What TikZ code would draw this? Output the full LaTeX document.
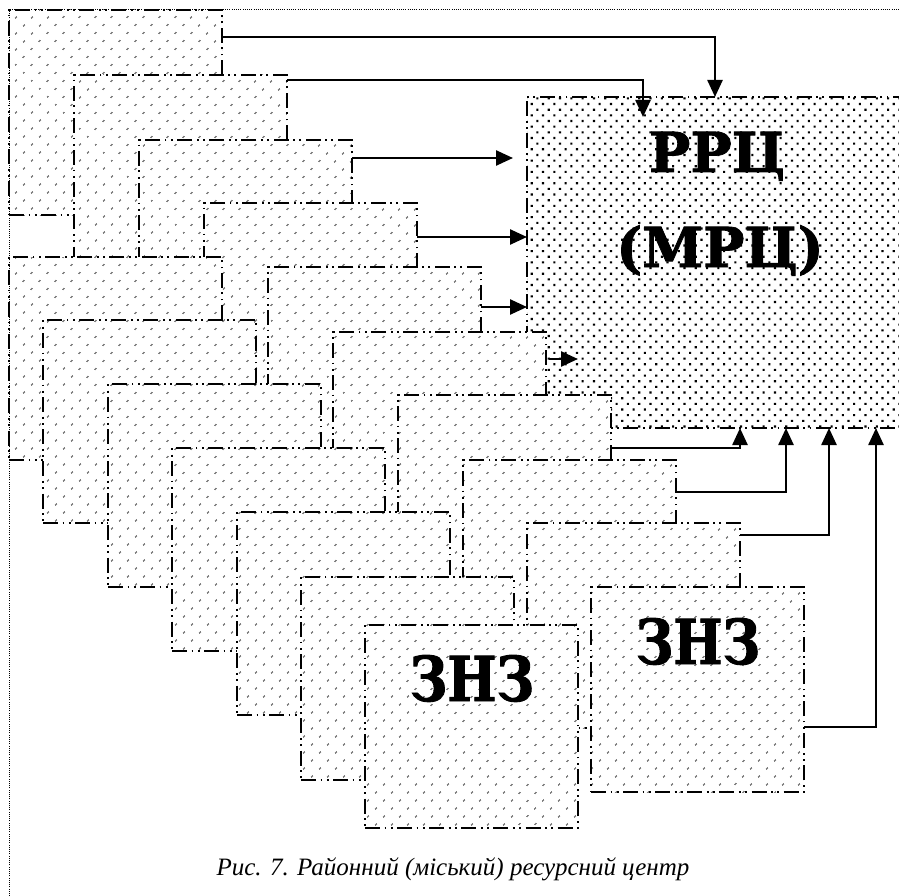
\documentclass[tikz,border=0pt]{standalone}
\usepackage{fontspec}
\setmainfont{Liberation Serif}
\newfontfamily\bigfont{DejaVu Serif}[FakeBold=1.5]
\newfontfamily\znzfont{DejaVu Serif}[FakeStretch=0.84,FakeBold=1.5]
\usetikzlibrary{patterns.meta,arrows.meta}
\begin{document}
\begin{tikzpicture}[x=1pt,y=-1pt,
  card/.style={draw, line width=1.8pt,
    dash pattern=on 15pt off 4.5pt on 1.8pt off 4.5pt on 1.8pt off 4.5pt,
    preaction={fill=white},
    pattern={Dots[distance=11.31pt, radius=1.05pt, angle=45]},
    rectangle, inner sep=0pt, outer sep=0pt, anchor=north west,
    minimum width=213pt},
  ucard/.style={card, minimum height=205pt},
  lcard/.style={card, minimum height=203pt},
  hub/.style={draw, line width=1.8pt,
    dash pattern=on 15pt off 4.5pt on 1.8pt off 4.5pt on 1.8pt off 4.5pt,
    preaction={fill=white},
    pattern={Dots[distance=8pt, radius=1.5pt, angle=45]},
    rectangle, inner sep=0pt, outer sep=0pt, anchor=north west,
    minimum width=378pt, minimum height=331pt},
  arr/.style={line width=2.5pt, -{Triangle[length=17pt, width=15pt]}},
  frame/.style={line width=1pt, dash pattern=on 1pt off 1.2pt},
  biglbl/.style={font=\bigfont\bfseries\fontsize{55}{60}\selectfont, anchor=base, inner sep=0pt},
  znzlbl/.style={font=\znzfont\bfseries\fontsize{62}{66}\selectfont, anchor=base, inner sep=0pt},
  caplbl/.style={font=\itshape\fontsize{25}{30}\selectfont, anchor=base, inner sep=0pt}
]
\useasboundingbox (0,0) rectangle (899,896);

% hub box
\node[hub] (mrc) at (527,97) {};

% upper cascade
\node[ucard] (u1) at (9,10) {};
\node[ucard] (u2) at (74,75) {};
\node[ucard] (u3) at (139,140) {};
\node[ucard] (u4) at (204,203) {};
\node[ucard] (u5) at (268,267) {};
\node[ucard] (u6) at (333,332) {};
\node[ucard] (u7) at (398,395) {};
\node[ucard] (u8) at (463,460) {};
\node[ucard] (u9) at (527,523) {};
\node[ucard] (u10) at (591,587) {};

% lower cascade
\node[lcard] (l1) at (9,257) {};
\node[lcard] (l2) at (43,320) {};
\node[lcard] (l3) at (108,384) {};
\node[lcard] (l4) at (172,448) {};
\node[lcard] (l5) at (237,512) {};
\node[lcard] (l6) at (301,577) {};
\node[lcard] (l7) at (365,625) {};

% frame
\draw[frame] (9,905) -- (9,10) -- (905,10);

% free ends
\coordinate (t2) at (643,117);
\coordinate (t3) at (513,158);
\coordinate (t6) at (578,359);

% arrows
\draw[arr] (u1.east |- 0,37) -| (mrc.north -| 715,0);
\draw[arr] (u2.east |- 0,80) -| (t2);
\draw[arr] (u3.east |- 0,158) -- (t3);
\draw[arr] (u4.east |- 0,237) -- (mrc.west |- 0,237);
\draw[arr] (u5.east |- 0,307) -- (mrc.west |- 0,307);
\draw[arr] ([xshift=3pt]u6.east |- 0,359) -- (t6);
\draw[arr] (u7.east |- 0,448) -| (mrc.south -| 740,0);
\draw[arr] (u8.east |- 0,492) -| (mrc.south -| 786,0);
\draw[arr] (u9.east |- 0,535) -| (mrc.south -| 829,0);
\draw[arr] (u10.east |- 0,727) -| (mrc.south -| 876,0);

% labels
\node[biglbl] (h1) at (717,172) {РРЦ};
\node[biglbl] (h2) at (720,267) {(МРЦ)};
\node[znzlbl] (z1) at (472,701) {ЗНЗ};
\node[znzlbl] (z2) at (698,664) {ЗНЗ};
\node[caplbl] (cap) at (453,875) {Рис. 7. Районний (міський) ресурсний центр};
\end{tikzpicture}
\end{document}
